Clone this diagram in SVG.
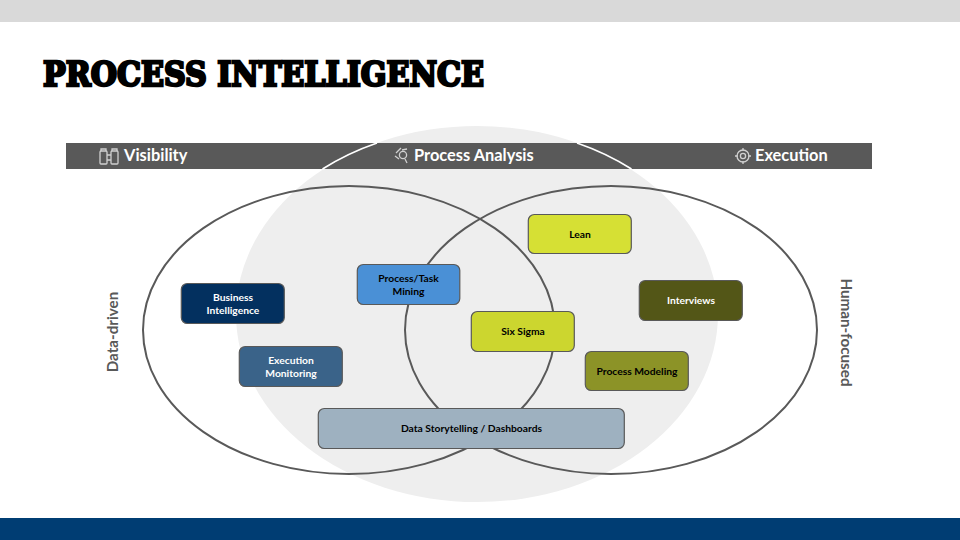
<svg xmlns="http://www.w3.org/2000/svg" width="960" height="540" viewBox="0 0 960 540">
<style>
.lbl{font-family:Lato,"Noto Sans",sans-serif;font-weight:700;font-size:10.3px;text-anchor:middle}
.hdr{font-family:Lato,"Noto Sans",sans-serif;font-weight:700;font-size:16.4px;fill:#fff}
.side{font-family:Lato,"Noto Sans",sans-serif;font-weight:700;font-size:15.2px;fill:#595959;text-anchor:middle}
.box{stroke:#595959;stroke-width:1.2}
.ring{fill:none;stroke:#595959;stroke-width:2}
.w{fill:#fff}.k{fill:#000}
.ic{fill:none;stroke:#d0d0d0;stroke-width:1.3}
</style>
<rect width="960" height="540" fill="#fff"/>
<rect id="top-band" width="960" height="22" fill="#d9d9d9"/>
<rect id="bottom-band" y="518" width="960" height="22" fill="#003d73"/>
<text id="title" x="43" y="86" font-family="'DejaVu Serif',serif" font-weight="700" font-size="33" stroke="#000" stroke-width="2.6" textLength="441" lengthAdjust="spacingAndGlyphs">PROCESS INTELLIGENCE</text>
<ellipse id="process-analysis-area" cx="477" cy="314" rx="241" ry="188" fill="#eeeeee"/>
<rect id="header-bar" x="66" y="143" width="806" height="26" fill="#595959"/>
<path id="process-analysis-arc" d="M322.5 169A241 188 0 0 1 377 143M577 143A241 188 0 0 1 631.5 169" fill="none" stroke="#fff" stroke-width="1.6"/>
<g id="connectors">
<ellipse class="ring" cx="349" cy="330" rx="206" ry="144"/>
<ellipse class="ring" cx="611" cy="330" rx="206" ry="144"/>
</g>
<g id="visibility"><g class="ic"><rect x="100" y="151" width="7" height="13" rx="1"/><rect x="111" y="151" width="7" height="13" rx="1"/><path d="M107 155h4M107 160h4M101 151v-2h5v2M112 151v-2h5v2"/></g><text class="hdr" x="124" y="161">Visibility</text></g>
<g id="process-analysis"><g class="ic"><circle cx="403" cy="155" r="3.6"/><path d="M399 159l-4-3M405 159l2 4M396 153l5-5M402 150l5-1"/></g><text class="hdr" x="414" y="161">Process Analysis</text></g>
<g id="execution"><g class="ic"><circle cx="743" cy="156" r="6"/><circle cx="743" cy="156" r="2.6"/><path d="M743 148v3M743 161v3M735 156h3M748 156h3"/></g><text class="hdr" x="755" y="161">Execution</text></g>
<text id="data-driven" class="side" transform="translate(118 332) rotate(-90)">Data-driven</text>
<text id="human-focused" class="side" transform="translate(841 332.5) rotate(90)">Human-focused</text>
<g id="business-intelligence"><rect class="box" x="181.3" y="283.5" width="103" height="40" rx="6" fill="#03305f"/><text class="lbl w" x="233" y="301">Business</text><text class="lbl w" x="233" y="314">Intelligence</text></g>
<g id="execution-monitoring"><rect class="box" x="239.3" y="346.5" width="103" height="40" rx="6" fill="#3a6389"/><text class="lbl w" x="291" y="364">Execution</text><text class="lbl w" x="291" y="377">Monitoring</text></g>
<g id="process-task-mining"><rect class="box" x="357.3" y="264.5" width="102.5" height="40" rx="6" fill="#4a90d6"/><text class="lbl k" x="408.5" y="282">Process/Task</text><text class="lbl k" x="408.5" y="295">Mining</text></g>
<g id="lean"><rect class="box" x="528.3" y="214.5" width="103" height="39" rx="6" fill="#d6e034"/><text class="lbl k" x="580" y="238">Lean</text></g>
<g id="interviews"><rect class="box" x="639.3" y="280.5" width="103" height="40" rx="6" fill="#535617"/><text class="lbl w" x="691" y="304">Interviews</text></g>
<g id="six-sigma"><rect class="box" x="471.3" y="311.5" width="103" height="40" rx="6" fill="#ccd62f"/><text class="lbl k" x="523" y="335">Six Sigma</text></g>
<g id="process-modeling"><rect class="box" x="585.3" y="351.5" width="103" height="39" rx="6" fill="#8c9327"/><text class="lbl k" x="637" y="375">Process Modeling</text></g>
<g id="data-storytelling"><rect class="box" x="318.3" y="408.5" width="306" height="40" rx="6" fill="#9eb1c0"/><text class="lbl k" x="471.5" y="432">Data Storytelling / Dashboards</text></g>
</svg>
